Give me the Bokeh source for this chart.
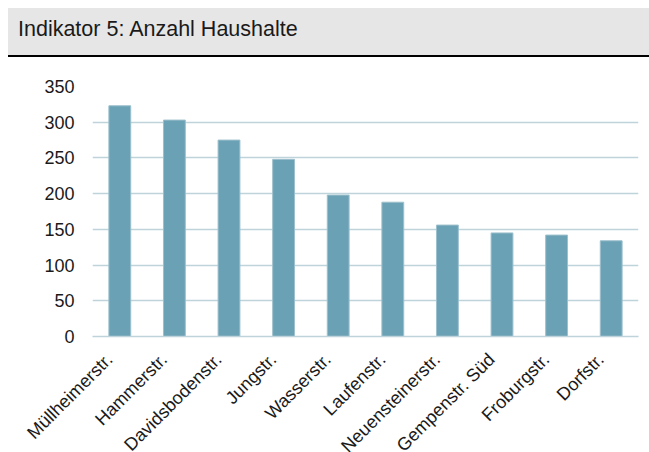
from bokeh.plotting import figure
from bokeh.layouts import column
from bokeh.models import (Range1d, FixedTicker, ColumnDataSource, Div,
                          LinearAxis, CustomJSTickFormatter)
from bokeh.embed import file_html
from bokeh.resources import INLINE
import math

title_text = "Indikator 5: Anzahl Haushalte"
streets = ["Müllheimerstr.", "Hammerstr.", "Davidsbodenstr.", "Jungstr.", "Wasserstr.",
           "Laufenstr.", "Neuensteinerstr.", "Gempenstr. Süd", "Froburgstr.", "Dorfstr."]
households = [323, 303, 275, 248, 198, 188, 156, 145, 142, 134]
y_ticks = [0, 50, 100, 150, 200, 250, 300, 350]

FONT = "Liberation Sans"
W = 649
PAGE_H = 452
HEADER_H = 57
MAIN_H = 412            # taller than the rest of the page: long labels run off the bottom
BAR_COLOR = "#6aa1b4"
GRID_COLOR = "#bfd3db"
TEXT_COLOR = "#1a1a1a"
LABEL_SHIFT = 0.19      # nudges the diagonal labels so that they end under the bar centre

# Header band (grey box with black rule underneath)
header_html = (
    '<div style="box-sizing:border-box;width:%dpx;height:%dpx;padding:8px 0 0 8px;margin:0;">'
    '<div style="box-sizing:border-box;width:%dpx;height:49px;background:#e6e6e6;'
    'border-bottom:2px solid #000;padding:11px 0 0 10px;margin:0;'
    'font-family:\'%s\';font-size:21.5px;line-height:21.5px;color:%s;white-space:nowrap;">%s</div></div>'
) % (W, HEADER_H, W - 8, FONT, TEXT_COLOR, title_text)
header = Div(text=header_html, width=W, height=HEADER_H, margin=0)

# Main chart: one slot per street, bar in the middle of each slot
n = len(streets)
centres = [i + 0.5 for i in range(n)]
src = ColumnDataSource(dict(pos=centres, street=streets, value=households))
p = figure(width=W, height=MAIN_H, x_range=Range1d(0, n),
           y_range=Range1d(0, 350), output_backend="svg", toolbar_location=None,
           min_border_top=29, min_border_left=92, min_border_right=11, min_border_bottom=133)
p.outline_line_color = None
p.background_fill_color = "white"
p.vbar(x="pos", top="value", width=0.4, source=src, fill_color=BAR_COLOR,
       line_color="#9cc0cd", line_width=1)

p.xgrid.visible = False
p.ygrid.grid_line_color = GRID_COLOR
p.ygrid.grid_line_width = 1.3
p.yaxis.ticker = FixedTicker(ticks=y_ticks)
p.yaxis.axis_line_color = None
p.yaxis.major_tick_line_color = None
p.yaxis.minor_tick_line_color = None
p.yaxis.major_tick_out = 0
p.yaxis.major_label_standoff = 18
p.yaxis.major_label_text_font = FONT
p.yaxis.major_label_text_font_size = "18px"
p.yaxis.major_label_text_color = TEXT_COLOR

# Street axis: ticks at the slot centres on a slightly shifted range (label placement)
p.xaxis.visible = False
p.extra_x_ranges = {"labels": Range1d(start=LABEL_SHIFT, end=n + LABEL_SHIFT)}
cat_axis = LinearAxis(x_range_name="labels",
                      ticker=FixedTicker(ticks=centres, minor_ticks=[]),
                      formatter=CustomJSTickFormatter(
                          args=dict(names=streets),
                          code="const k = Math.round(tick - 0.5); return (k >= 0 && k < names.length) ? names[k] : '';"))
cat_axis.axis_line_color = GRID_COLOR
cat_axis.axis_line_width = 1.3
cat_axis.major_tick_line_color = None
cat_axis.minor_tick_line_color = None
cat_axis.major_tick_out = 0
cat_axis.major_tick_in = 0
cat_axis.major_label_orientation = math.pi / 4
cat_axis.major_label_standoff = 20
cat_axis.major_label_text_font = FONT
cat_axis.major_label_text_font_size = "18px"
cat_axis.major_label_text_color = TEXT_COLOR
p.add_layout(cat_axis, "below")

layout = column(header, p, spacing=0, width=W, height=PAGE_H, styles={"overflow": "hidden"})
open("out.html", "w").write(file_html(layout, INLINE))
